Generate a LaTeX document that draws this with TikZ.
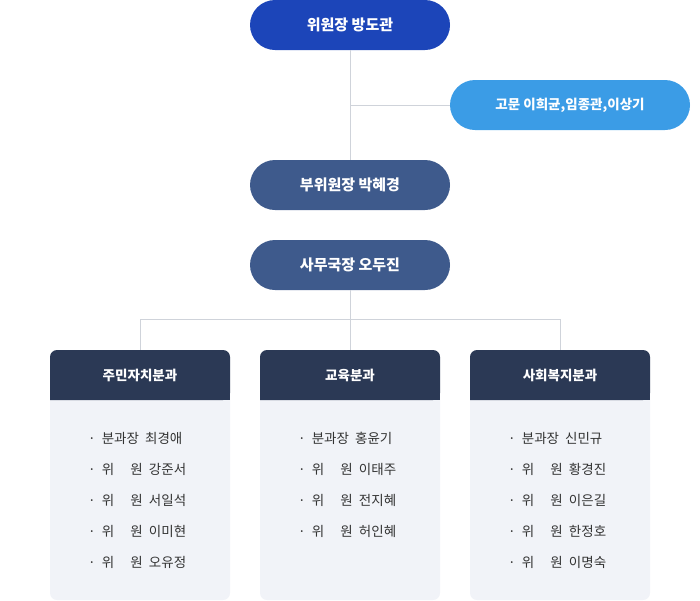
\documentclass[tikz,border=0pt]{standalone}
\usepackage{fontspec}
\setmainfont{Noto Sans CJK KR}
\begin{document}
\begin{tikzpicture}[x=1pt,y=-1pt,
  pill/.style={rounded corners=25pt,minimum width=200pt,minimum height=50pt,text=white,font=\bfseries\fontsize{15}{18}\selectfont,inner sep=0},
  card/.style={fill=bodyc,rounded corners=7pt,minimum width=180pt,minimum height=250pt,inner sep=0},
  line/.style={draw=linec,line width=0.8pt},
  item/.style={anchor=west,font=\fontsize{13.5}{16}\selectfont,text=itemc,inner sep=0}]
\definecolor{topc}{HTML}{1C45B9}
\definecolor{advc}{HTML}{3B9CE6}
\definecolor{midc}{HTML}{3E5A8C}
\definecolor{headc}{HTML}{2B3955}
\definecolor{bodyc}{HTML}{F1F3F8}
\definecolor{linec}{HTML}{CFD3DA}
\definecolor{itemc}{HTML}{333333}
\useasboundingbox (0,0) rectangle (700,600);
\node[pill,fill=topc] (top) at (350,25) {위원장 방도관};
\node[pill,fill=advc,minimum width=240pt,font=\bfseries\fontsize{13.5}{16}\selectfont] (adv) at (570,105) {고문 이희균,임종관,이상기};
\node[pill,fill=midc] (vice) at (350,185) {부위원장 박혜경};
\node[pill,fill=midc] (sec) at (350,265) {사무국장 오두진};
\coordinate (j) at (350,105);
\draw[line] (top.south) -- (vice.north);
\draw[line] (j) -- (adv.west);
\coordinate (h) at (350,320);
\foreach \n/\x/\t in {a/140/주민자치분과,b/350/교육분과,c/560/사회복지분과}{
  \node[card] (\n) at (\x,475) {};
  \fill[headc,rounded corners=7pt] (\x-90,400) -- (\x-90,350) -- (\x+90,350) -- (\x+90,400) [sharp corners] -- cycle;
  \fill[headc] (\x-90,390) rectangle (\x+90,400);
  \node[text=white,font=\bfseries\fontsize{13.5}{16}\selectfont] (\n h) at (\x,375) {\t};
}
\draw[line] (sec.south) -- (h);
\draw[line] (a.north) -- ++(0,-30) -| (c.north);
\draw[line] (h) -- (b.north);
\def\w{위\hspace{1.2em}원}
\foreach \n/\x/\l in {a/88/{분과장\ \ 최경애,\w\ \ 강준서,\w\ \ 서일석,\w\ \ 이미현,\w\ \ 오유정},
                      b/298/{분과장\ \ 홍윤기,\w\ \ 이태주,\w\ \ 전지혜,\w\ \ 허인혜},
                      c/508/{분과장\ \ 신민규,\w\ \ 황경진,\w\ \ 이은길,\w\ \ 한정호,\w\ \ 이명숙}}{
  \foreach \s [count=\i] in \l {
    \node[item] (\n i\i) at (\x,438+31*\i-31) {·\ \ \s};
  }
}
\end{tikzpicture}
\end{document}
